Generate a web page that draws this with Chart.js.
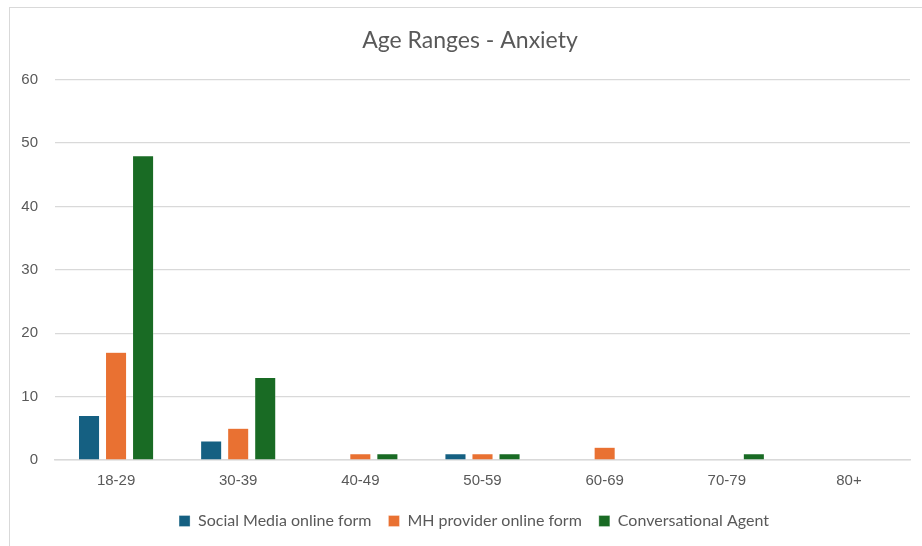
<!DOCTYPE html>
<html>
<head>
<meta charset="utf-8">
<script src="https://cdn.jsdelivr.net/npm/chart.js@4.4.1/dist/chart.umd.min.js"></script>
<style>
  html, body { margin: 0; padding: 0; background: #ffffff; }
  #wrap { width: 922px; height: 546px; position: relative; }
</style>
</head>
<body>
<div id="wrap"><canvas id="c" width="922" height="546"></canvas></div>
<script>
// Age bands on the x axis
const ageRanges = ['18-29', '30-39', '40-49', '50-59', '60-69', '70-79', '80+'];

// Respondent counts per recruitment channel
const socialMedia = [7, 3, 0, 1, 0, 0, 0];
const mhProvider = [17, 5, 1, 1, 2, 0, 0];
const conversationalAgent = [48, 13, 1, 1, 0, 1, 0];

// Y axis range
const yMin = 0;
const yMax = 60;
const yStep = 10;

// Light frame around the whole chart, plus centring of title and legend on the frame
const frame = {
  id: 'frame',
  afterLayout(chart) {
    if (chart.titleBlock) { chart.titleBlock.left += 15; chart.titleBlock.right += 15; }
    if (chart.legend) { chart.legend.left += 19; chart.legend.right += 19; }
  },
  beforeDraw(chart) {
    const ctx = chart.ctx;
    ctx.save();
    ctx.fillStyle = '#ffffff';
    ctx.fillRect(0, 0, chart.width, chart.height);
    ctx.strokeStyle = '#d9d9d9';
    ctx.lineWidth = 1;
    ctx.strokeRect(9.5, 7.5, chart.width + 10, chart.height + 10);
    ctx.restore();
  }
};

new Chart(document.getElementById('c'), {
  type: 'bar',
  data: {
    labels: ageRanges,
    datasets: [
      { label: 'Social Media online form', data: socialMedia, backgroundColor: '#156082' },
      { label: 'MH provider online form', data: mhProvider, backgroundColor: '#e97132' },
      { label: 'Conversational Agent', data: conversationalAgent, backgroundColor: '#196b24' }
    ]
  },
  options: {
    responsive: false,
    animation: false,
    devicePixelRatio: 1,
    layout: { padding: { left: 0, right: 12, top: 27, bottom: 7 } },
    datasets: {
      bar: {
        categoryPercentage: 0.664,
        barPercentage: 0.78,
        borderColor: 'rgba(255,255,255,0.6)',
        borderWidth: 0.5
      }
    },
    scales: {
      x: {
        grid: { display: false, drawTicks: false },
        border: { display: true, color: '#d9d9d9', width: 1.5 },
        ticks: {
          color: '#595959',
          padding: 12,
          font: { family: '"Liberation Sans", Arial, sans-serif', size: 15 }
        },
        afterFit(scale) { scale.height = 36; }
      },
      y: {
        min: yMin,
        max: yMax,
        ticks: {
          stepSize: yStep,
          color: '#595959',
          padding: 17,
          font: { family: '"Liberation Sans", Arial, sans-serif', size: 15 }
        },
        grid: { color: '#d9d9d9', lineWidth: 1.2, drawTicks: false },
        border: { display: false },
        afterFit(scale) { scale.width = 55; }
      }
    },
    plugins: {
      title: {
        display: true,
        text: 'Age Ranges - Anxiety',
        color: '#595959',
        font: { family: 'Lato, "Open Sans", sans-serif', size: 23, weight: 'normal' },
        padding: { top: 0, bottom: 25 }
      },
      legend: {
        position: 'bottom',
        labels: {
          color: '#595959',
          boxWidth: 11,
          boxHeight: 11,
          padding: 17,
          font: { family: 'Lato, "Open Sans", sans-serif', size: 16 }
        }
      },
      tooltip: { enabled: false }
    }
  },
  plugins: [frame]
});
</script>
</body>
</html>
